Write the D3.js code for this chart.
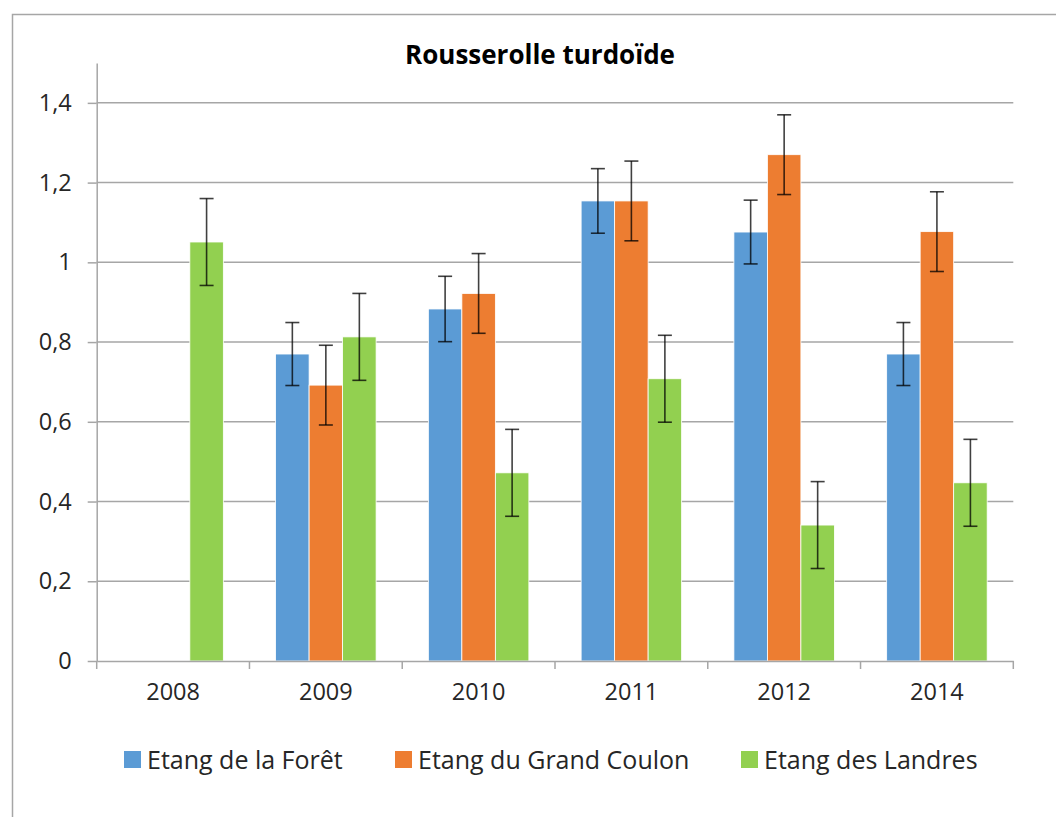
<!DOCTYPE html>
<html>
<head>
<meta charset="utf-8">
<script src="https://cdn.jsdelivr.net/npm/d3@7"></script>
<style>
  html, body { margin: 0; padding: 0; background: #fff; }
  svg { display: block; }
  text { font-family: "Open Sans", sans-serif; fill: #262626; }
</style>
</head>
<body>
<svg id="chart" width="1056" height="817"></svg>
<script>
const title = "Rousserolle turdoïde";
const categories = ["2008", "2009", "2010", "2011", "2012", "2014"];
const seriesNames = ["Etang de la Forêt", "Etang du Grand Coulon", "Etang des Landres"];
const seriesColors = ["#5b9bd5", "#ed7d31", "#92d050"];
const foret = [null, 0.77, 0.883, 1.154, 1.076, 0.77];
const foretErr = [null, 0.079, 0.082, 0.081, 0.08, 0.079];
const grandCoulon = [null, 0.692, 0.922, 1.154, 1.27, 1.077];
const grandCoulonErr = [null, 0.1, 0.1, 0.1, 0.1, 0.1];
const landres = [1.051, 0.813, 0.472, 0.708, 0.341, 0.447];
const landresErr = [0.109, 0.109, 0.109, 0.109, 0.109, 0.109];
const yTicks = [0, 0.2, 0.4, 0.6, 0.8, 1, 1.2, 1.4];

const seriesValues = [foret, grandCoulon, landres];
const seriesErrs = [foretErr, grandCoulonErr, landresErr];

const svg = d3.select("#chart");

// outer chart border
svg.append("rect")
  .attr("x", 12.5).attr("y", 14.5)
  .attr("width", 1100).attr("height", 900)
  .attr("fill", "none").attr("stroke", "#a6a6a6").attr("stroke-width", 1.5);

const plotLeft = 96.7, plotRight = 1013.3, plotTop = 63, plotBottom = 661;

const x0 = d3.scaleBand().domain(categories).range([plotLeft, plotRight]).padding(0);
const x1 = d3.scaleBand().domain(d3.range(seriesNames.length))
  .range([0, x0.bandwidth()]).paddingInner(0).paddingOuter(0.78);
const y = d3.scaleLinear().domain([0, 1.5]).range([plotBottom, plotTop]);

// gridlines
svg.append("g").selectAll("line").data(yTicks.filter(d => d > 0)).join("line")
  .attr("x1", plotLeft).attr("x2", plotRight)
  .attr("y1", d => y(d)).attr("y2", d => y(d))
  .attr("stroke", "#a6a6a6").attr("stroke-width", 1.5);

// y axis
const yAxis = d3.axisLeft(y).tickValues(yTicks)
  .tickFormat(d => d3.format("")(d).replace(".", ","))
  .tickSizeInner(9).tickSizeOuter(0).tickPadding(16);
const gy = svg.append("g").attr("transform", `translate(${plotLeft},0)`).call(yAxis);
gy.select(".domain").attr("stroke", "#a6a6a6").attr("stroke-width", 1.5);
gy.selectAll(".tick line").attr("stroke", "#a6a6a6").attr("stroke-width", 1.5);
gy.selectAll(".tick text").style("font-size", "23.5px").style("font-family", "'Open Sans', sans-serif").attr("fill", "#262626");

// bars
seriesNames.forEach((name, si) => {
  const data = categories.map((c, i) => ({ c, i, v: seriesValues[si][i], e: seriesErrs[si][i] }))
    .filter(d => d.v !== null);
  const g = svg.append("g");
  g.selectAll("rect").data(data).join("rect")
    .attr("x", d => x0(d.c) + x1(si))
    .attr("width", x1.bandwidth())
    .attr("y", d => y(d.v))
    .attr("height", d => y(0) - y(d.v))
    .attr("fill", seriesColors[si])
    .attr("stroke", "#ffffff").attr("stroke-width", 0.8);
});

// x axis
const xAxis = d3.axisBottom(x0).tickSize(0).tickPadding(22);
const gx = svg.append("g").attr("transform", `translate(0,${plotBottom})`).call(xAxis);
gx.select(".domain").attr("stroke", "#a6a6a6").attr("stroke-width", 1.5);
gx.selectAll(".tick text").style("font-size", "23.5px").style("font-family", "'Open Sans', sans-serif").attr("fill", "#262626");
// category boundary ticks
const boundaries = categories.map(c => x0(c)).concat([x0(categories[categories.length - 1]) + x0.bandwidth()]);
svg.append("g").selectAll("line").data(boundaries).join("line")
  .attr("x1", d => d).attr("x2", d => d)
  .attr("y1", plotBottom).attr("y2", plotBottom + 8)
  .attr("stroke", "#a6a6a6").attr("stroke-width", 1.5);

// error bars
seriesNames.forEach((name, si) => {
  const data = categories.map((c, i) => ({ c, i, v: seriesValues[si][i], e: seriesErrs[si][i] }))
    .filter(d => d.v !== null);
  const g = svg.append("g").attr("stroke", "#000").attr("stroke-opacity", 0.75).attr("stroke-width", 1.6);
  const cx = d => x0(d.c) + x1(si) + x1.bandwidth() / 2;
  g.selectAll("line.v").data(data).join("line").attr("class", "v")
    .attr("x1", cx).attr("x2", cx)
    .attr("y1", d => y(d.v + d.e)).attr("y2", d => y(d.v - d.e));
  g.selectAll("line.t").data(data).join("line").attr("class", "t")
    .attr("x1", d => cx(d) - 7).attr("x2", d => cx(d) + 7)
    .attr("y1", d => y(d.v + d.e)).attr("y2", d => y(d.v + d.e));
  g.selectAll("line.b").data(data).join("line").attr("class", "b")
    .attr("x1", d => cx(d) - 7).attr("x2", d => cx(d) + 7)
    .attr("y1", d => y(d.v - d.e)).attr("y2", d => y(d.v - d.e));
});

// title
svg.append("text")
  .attr("x", 540).attr("y", 64)
  .attr("text-anchor", "middle")
  .style("font-size", "26px").style("font-weight", "bold")
  .style("fill", "#000")
  .text(title);

// legend
const legendX = [124, 395, 741];
const legend = svg.append("g").selectAll("g").data(seriesNames).join("g")
  .attr("transform", (d, i) => `translate(${legendX[i]},751)`);
legend.append("rect").attr("width", 17).attr("height", 17)
  .attr("fill", (d, i) => seriesColors[i]);
legend.append("text").attr("x", 23).attr("y", 18)
  .style("font-size", "25px")
  .text(d => d);
</script>
</body>
</html>
